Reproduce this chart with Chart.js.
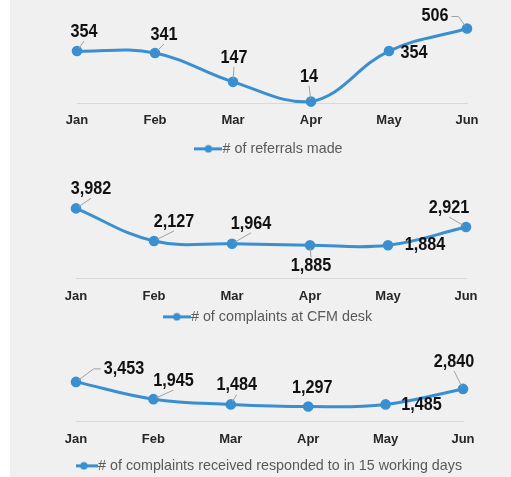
<!DOCTYPE html>
<html>
<head>
<meta charset="utf-8">
<script src="https://cdn.jsdelivr.net/npm/chart.js@4"></script>
<style>
  html, body { margin: 0; padding: 0; overflow: hidden; background: #fff; }
  #panel { position: absolute; left: 10px; top: 0; width: 501px; height: 477px; background: #f0f0f0; }
  .box { position: absolute; left: 0; width: 511px; }
</style>
</head>
<body>
<div id="panel"></div>
<div class="box" style="top:0;height:166px"><canvas id="c1"></canvas></div>
<div class="box" style="top:160px;height:174px"><canvas id="c2"></canvas></div>
<div class="box" style="top:330px;height:153px"><canvas id="c3"></canvas></div>
<script>
// data
const months = ['Jan', 'Feb', 'Mar', 'Apr', 'May', 'Jun'];
const referrals = [354, 341, 147, 14, 354, 506];
const complaintsDesk = [3982, 2127, 1964, 1885, 1884, 2921];
const complaintsResponded = [3453, 1945, 1484, 1297, 1485, 2840];

const blue = '#3a8fd0';

// legend marker: line with a dot
const marker = document.createElement('canvas');
marker.width = 28; marker.height = 9;
let mctx = marker.getContext('2d');
mctx.strokeStyle = blue; mctx.lineWidth = 3;
mctx.beginPath(); mctx.moveTo(0, 4.5); mctx.lineTo(28, 4.5); mctx.stroke();
mctx.fillStyle = blue;
mctx.beginPath(); mctx.arc(14, 4.5, 3.8, 0, Math.PI * 2); mctx.fill();

// data labels with leader lines, offsets are [dx, dy, leader]
const squeeze = 0.9;
const valueLabels = {
    id: 'valueLabels',
    afterDatasetsDraw(chart, args, opts) {
        let ctx = chart.ctx;
        let pts = chart.getDatasetMeta(0).data;
        let vals = chart.data.datasets[0].data;
        ctx.save();
        ctx.font = 'bold 18px "Liberation Sans", Arial, sans-serif';
        ctx.textAlign = 'center';
        ctx.textBaseline = 'middle';
        pts.forEach((p, i) => {
            let [dx, dy, leader] = opts.offsets[i];
            let cx = p.x + dx, cy = p.y + dy;
            let text = vals[i].toLocaleString('en-US');
            let w = ctx.measureText(text).width * squeeze;
            if (leader) {
                let l = cx - w / 2, r = cx + w / 2, t = cy - 9, b = cy + 9;
                let sx, sy;
                ctx.strokeStyle = '#a0a0a0';
                ctx.lineWidth = 1;
                ctx.beginPath();
                if (p.x < l - 2 || p.x > r + 2) {
                    let side = p.x < l ? l - 3 : r + 3;
                    let stub = p.x < l ? side - 7 : side + 7;
                    ctx.moveTo(side, cy);
                    ctx.lineTo(stub, cy);
                    sx = stub; sy = cy;
                } else {
                    sx = cx; sy = p.y > cy ? b : t;
                    ctx.moveTo(sx, sy);
                }
                let len = Math.hypot(p.x - sx, p.y - sy);
                let k = len > 4 ? (len - 3) / len : 0;
                ctx.lineTo(sx + (p.x - sx) * k, sy + (p.y - sy) * k);
                ctx.stroke();
            }
            ctx.save();
            ctx.translate(cx, cy);
            ctx.scale(squeeze, 1);
            ctx.fillStyle = '#111111';
            ctx.fillText(text, 0, 0);
            ctx.restore();
        });
        ctx.restore();
    },
};

function makeChart(id, label, values, cfg) {
    return new Chart(document.getElementById(id), {
        type: 'line',
        data: {
            labels: months,
            datasets: [
                {
                    label: label,
                    data: values,
                    borderColor: blue,
                    backgroundColor: blue,
                    borderWidth: 3,
                    pointRadius: 3.8,
                    pointHoverRadius: 4,
                    tension: 0.4,
                    clip: false,
                },
            ],
        },
        options: {
            responsive: true,
            maintainAspectRatio: false,
            animation: false,
            layout: {
                padding: { left: cfg.left, right: cfg.right, top: cfg.top, bottom: 0 },
            },
            scales: {
                x: {
                    offset: false,
                    grid: { display: false, drawTicks: false },
                    border: { display: true, color: '#d9d9d9', width: 1 },
                    ticks: {
                        padding: cfg.tickPad,
                        color: '#262626',
                        font: { family: '"Liberation Sans", Arial, sans-serif', size: 13, weight: 'bold' },
                    },
                    afterFit: (scale) => { scale.height = cfg.axisH; },
                },
                y: {
                    display: false,
                    min: 0,
                    max: cfg.max,
                },
            },
            plugins: {
                legend: {
                    position: 'bottom',
                    labels: {
                        usePointStyle: true,
                        pointStyle: marker,
                        pointStyleWidth: 14,
                        padding: cfg.legendPad,
                        color: '#595959',
                        font: { family: '"Liberation Sans", Arial, sans-serif', size: 14.3 },
                    },
                },
                tooltip: { enabled: false },
                valueLabels: { offsets: cfg.offsets },
            },
        },
        plugins: [valueLabels],
    });
}

makeChart('c1', '# of referrals made', referrals, {
    left: 77, right: 44, top: 14.5, max: 600, tickPad: 8.5, axisH: 32, legendPad: 6,
    offsets: [[7, -19, true], [9, -18, true], [1, -24, true], [-2, -25, true], [25, 2, false], [-32, -12, true]],
});
makeChart('c2', '# of complaints at CFM desk', complaintsDesk, {
    left: 76, right: 45, top: 30.5, max: 5000, tickPad: 10.2, axisH: 29.4, legendPad: 2,
    offsets: [[15, -19, true], [20, -19, true], [19, -20, true], [1, 21, true], [37, 0, false], [-17, -19, true]],
});
makeChart('c3', '# of complaints received responded to in 15 working days', complaintsResponded, {
    left: 76, right: 48, top: 34.2, max: 5000, tickPad: 10.1, axisH: 33.3, legendPad: 4,
    offsets: [[48, -13, true], [20, -18, true], [6, -19, true], [4, -19, false], [36, 1, false], [-9, -27, true]],
});
</script>
</body>
</html>
